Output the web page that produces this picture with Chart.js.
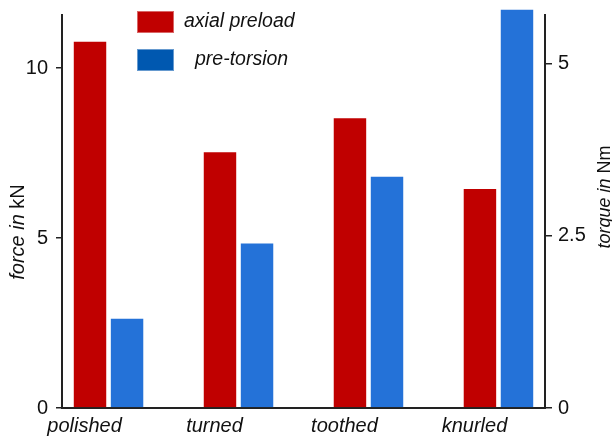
<!DOCTYPE html>
<html lang="en">
<head>
<meta charset="UTF-8">
<title>Axial preload and pre-torsion</title>
<script src="https://cdn.jsdelivr.net/npm/chart.js@4.4.1/dist/chart.umd.min.js"></script>
<style>
    html, body { margin: 0; padding: 0; background: #fff; }
    #wrap { width: 612px; height: 439px; }
</style>
</head>
<body>
<div id="wrap"><canvas id="chart"></canvas></div>
<script>
    // data
    const categories = ['polished', 'turned', 'toothed', 'knurled'];
    const seriesNames = ['axial preload', 'pre-torsion'];
    const forceKN = [10.8, 7.55, 8.55, 6.47];
    const torqueNm = [1.31, 2.40, 3.37, 5.79];
    const forceTicks = [0, 5, 10];
    const torqueTicks = [0, 2.5, 5];

    const barColors = ['#c00000', '#2472d8'];
    const legendColors = ['#c00000', '#0058b0'];
    const FONT = '"Liberation Sans", Arial, sans-serif';
    const AXIS = '#222';

    // legend drawn by hand to match the boxed layout of the original
    const legendPlugin = {
        id: 'boxLegend',
        afterDraw(chart) {
            const ctx = chart.ctx;
            const boxY = [11, 49];
            const textX = [184, 195];
            ctx.save();
            seriesNames.forEach((name, i) => {
                ctx.fillStyle = legendColors[i];
                ctx.fillRect(137, boxY[i], 37, 22);
                ctx.strokeStyle = 'rgba(255,255,255,0.4)';
                ctx.lineWidth = 1;
                ctx.strokeRect(137.5, boxY[i] + 0.5, 36, 21);
                ctx.fillStyle = '#111';
                ctx.font = 'italic 19.5px ' + FONT;
                ctx.textBaseline = 'middle';
                ctx.textAlign = 'left';
                ctx.fillText(name, textX[i], boxY[i] + 11);
            });
            ctx.restore();
        }
    };

    // axis titles with mixed italic / upright text
    function drawRotTitle(ctx, cx, cy, parts, size) {
        ctx.save();
        ctx.translate(cx, cy);
        ctx.rotate(-Math.PI / 2);
        ctx.fillStyle = '#111';
        ctx.textBaseline = 'middle';
        ctx.textAlign = 'left';
        let w = 0;
        parts.forEach(p => {
            ctx.font = (p.italic ? 'italic ' : '') + size + 'px ' + FONT;
            w += ctx.measureText(p.text).width;
        });
        let x = -w / 2;
        parts.forEach(p => {
            ctx.font = (p.italic ? 'italic ' : '') + size + 'px ' + FONT;
            ctx.fillText(p.text, x, 0);
            x += ctx.measureText(p.text).width;
        });
        ctx.restore();
    }

    const titlePlugin = {
        id: 'axisTitles',
        afterDraw(chart) {
            const ctx = chart.ctx;
            drawRotTitle(ctx, 18, 232, [{ text: 'force in', italic: true }, { text: ' kN', italic: false }], 20);
            drawRotTitle(ctx, 605, 197, [{ text: 'torque in', italic: true }, { text: ' Nm', italic: false }], 18);
        }
    };

    function noPad(s) {
        s.paddingTop = 0;
        s.paddingBottom = 0;
    }

    function loadChart() {
        const ctx = document.getElementById('chart').getContext('2d');
        new Chart(ctx, {
            type: 'bar',
            data: {
                datasets: [
                    {
                        label: seriesNames[0],
                        data: forceKN.map((v, i) => ({ x: i, y: v })),
                        yAxisID: 'y',
                        backgroundColor: barColors[0],
                        borderColor: 'rgba(255,255,255,0.35)',
                        borderWidth: 1
                    },
                    {
                        label: seriesNames[1],
                        data: torqueNm.map((v, i) => ({ x: i, y: v })),
                        yAxisID: 'y1',
                        backgroundColor: barColors[1],
                        borderColor: 'rgba(255,255,255,0.35)',
                        borderWidth: 1,
                        clip: false
                    }
                ]
            },
            options: {
                responsive: true,
                maintainAspectRatio: false,
                animation: false,
                categoryPercentage: 0.57,
                barPercentage: 0.93,
                layout: { padding: { top: 15, left: 0, right: 0, bottom: 0 } },
                plugins: {
                    legend: { display: false },
                    tooltip: { enabled: false }
                },
                scales: {
                    x: {
                        type: 'linear',
                        offset: false,
                        min: -0.358,
                        max: 3.358,
                        afterBuildTicks: s => { s.ticks = categories.map((c, i) => ({ value: i })); },
                        afterFit: s => { s.height = 31; s.paddingLeft = 0; s.paddingRight = 0; },
                        grid: { drawOnChartArea: false, drawTicks: false },
                        border: { display: true, color: AXIS, width: 2 },
                        ticks: {
                            autoSkip: false,
                            maxRotation: 0,
                            padding: 6,
                            labelOffset: -24,
                            color: '#111',
                            font: { family: FONT, size: 20, style: 'italic' },
                            callback: v => categories[v]
                        }
                    },
                    y: {
                        position: 'left',
                        min: 0,
                        max: 11.56,
                        afterBuildTicks: s => { s.ticks = forceTicks.map(v => ({ value: v })); },
                        afterFit: s => { s.width = 62; noPad(s); },
                        grid: { drawOnChartArea: false, drawTicks: true, tickLength: 6, color: AXIS, lineWidth: 1.5 },
                        border: { display: true, color: AXIS, width: 2 },
                        ticks: {
                            padding: 8,
                            color: '#111',
                            font: { family: FONT, size: 20 }
                        }
                    },
                    y1: {
                        position: 'right',
                        min: 0,
                        max: 5.70,
                        afterBuildTicks: s => { s.ticks = torqueTicks.map(v => ({ value: v })); },
                        afterFit: s => { s.width = 67; noPad(s); },
                        grid: { drawOnChartArea: false, drawTicks: true, tickLength: 7, color: AXIS, lineWidth: 1.5 },
                        border: { display: true, color: AXIS, width: 2 },
                        ticks: {
                            padding: 6,
                            color: '#111',
                            font: { family: FONT, size: 20 }
                        }
                    }
                }
            },
            plugins: [legendPlugin, titlePlugin]
        });
    }

    window.onload = () => {
        loadChart();
    };
</script>
</body>
</html>
